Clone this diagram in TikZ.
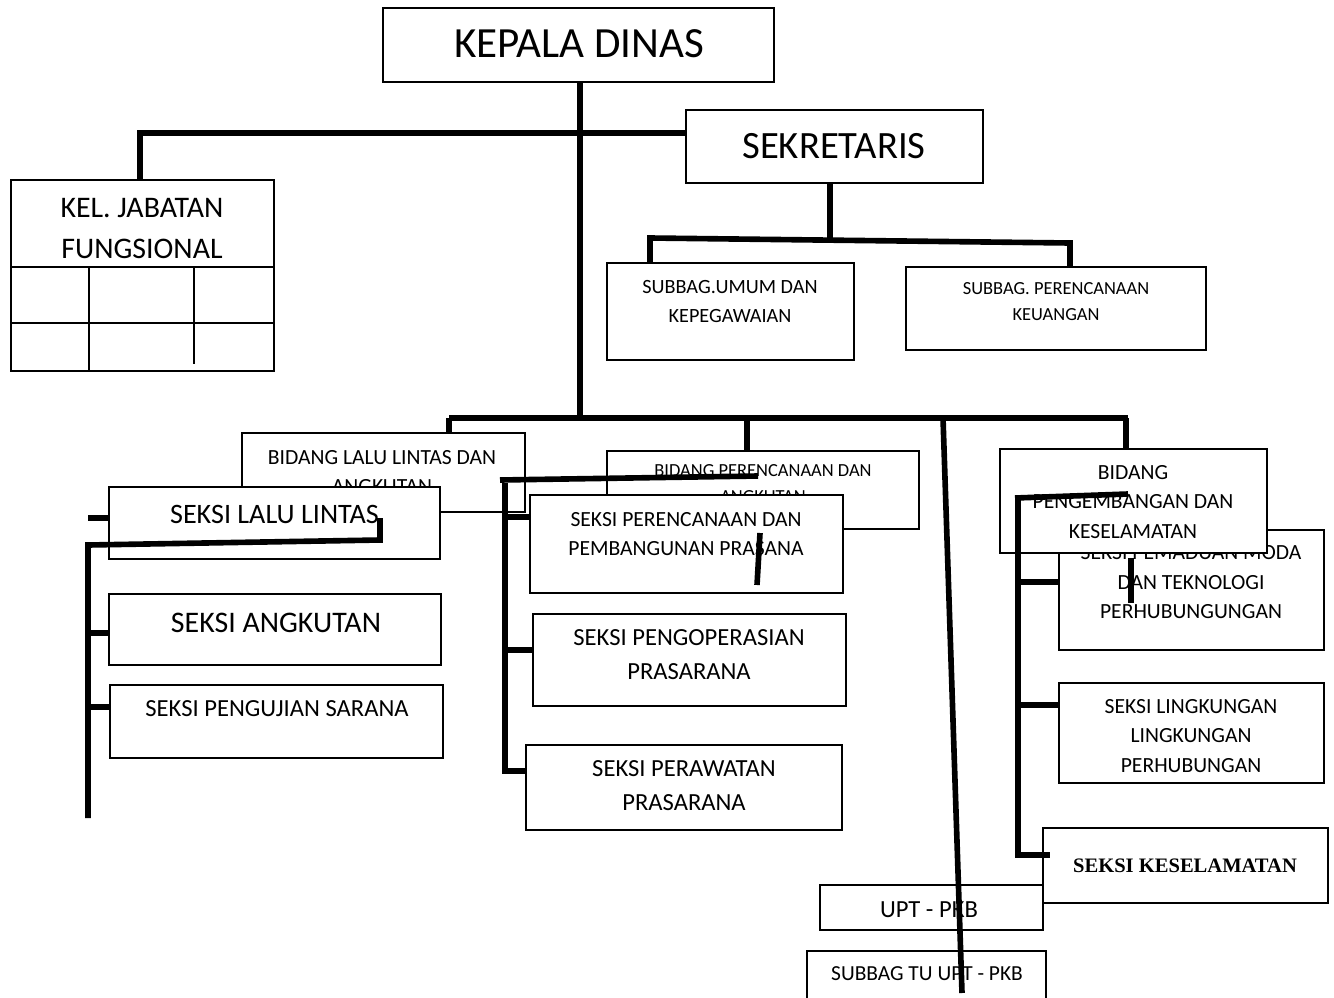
\documentclass[tikz,border=0pt]{standalone}
\usepackage{fontspec}
\setmainfont{Carlito}
\newfontfamily\tnr{Liberation Serif}
\usetikzlibrary{fit}
\def\uk#1#2{\fontsize{#1}{#2}\selectfont}
\tikzset{
  kotak/.style={draw, fill=white, line width=1.1pt, inner sep=0pt},
  teks/.style={align=center, inner sep=0pt},
  garis/.style={line width=3.2pt},
}

\begin{document}
\begin{tikzpicture}[x=0.02cm, y=-0.02cm]
	%%%%% START %%%%%
	\useasboundingbox (0,0) rectangle (1334,997);
	
	% pimpinan
	\node[kotak, fit={(383,8) (774,82)}] (kadis) {};
	\node[teks, font=\uk{24.5}{30}] (kadis-t) at (579,44) {KEPALA DINAS};
	\node[kotak, fit={(686,110) (983,183)}] (sekr) {};
	\node[teks, font=\uk{22}{26}] (sekr-t) at (834,146) {SEKRETARIS};
	
	% kelompok jabatan fungsional
	\node[kotak, fit={(11,180) (274,371)}] (kjf) {};
	\node[teks, font=\uk{17}{23.3}] (kjf-t) at (142,228.5) {KEL. JABATAN\\FUNGSIONAL};
	\draw[line width=1.1pt] (11,267) -- (274,267);
	\draw[line width=1.1pt] (11,323) -- (274,323);
	\draw[line width=1.1pt] (89,267) -- (89,371);
	\draw[line width=1.1pt] (194,267) -- (194,364);
	
	% subbag
	\node[kotak, fit={(607,263) (854,360)}] (umum) {};
	\node[teks, font=\uk{11.5}{16.5}] (umum-t) at (730,302) {SUBBAG.UMUM DAN\\KEPEGAWAIAN};
	\node[kotak, fit={(906,267) (1206,350)}] (keu) {};
	\node[teks, font=\uk{10.5}{14.8}] (keu-t) at (1056,302) {SUBBAG. PERENCANAAN\\KEUANGAN};
	
	% bidang lalu lintas
	\node[kotak, line width=1pt, fit={(242,433) (525,512)}] (bidll) {};
	\node[teks, font=\uk{12.3}{17}] (bidll-t) at (382,472) {BIDANG LALU LINTAS DAN\\ANGKUTAN};
	\node[kotak, fit={(109,487) (440,559)}] (sll) {};
	\node[teks, font=\uk{16}{20}] (sll-t) at (274.5,514) {SEKSI LALU LINTAS};
	\node[kotak, fit={(109,594) (441,665)}] (sang) {};
	\node[teks, font=\uk{17}{20}] (sang-t) at (276,623) {SEKSI ANGKUTAN};
	\node[kotak, fit={(110,685) (443,758)}] (suji) {};
	\node[teks, font=\uk{14}{18}] (suji-t) at (277,709) {SEKSI PENGUJIAN SARANA};
	
	% bidang perencanaan
	\node[kotak, fit={(607,451) (919,529)}] (bidpa) {};
	\node[teks, font=\uk{10.5}{14.8}] (bidpa-t) at (763,484) {BIDANG PERENCANAAN DAN\\ANGKUTAN};
	\node[kotak, fit={(530,495) (843,593)}] (sppp) {};
	\node[teks, font=\uk{12.3}{17}] (sppp-t) at (686,534) {SEKSI PERENCANAAN DAN\\PEMBANGUNAN PRASANA};
	\node[kotak, fit={(533,614) (846,706)}] (sop) {};
	\node[teks, font=\uk{14}{19.3}] (sop-t) at (689,655) {SEKSI PENGOPERASIAN\\PRASARANA};
	\node[kotak, fit={(526,745) (842,830)}] (srw) {};
	\node[teks, font=\uk{14}{19}] (srw-t) at (684,785.5) {SEKSI PERAWATAN\\PRASARANA};
	
	% bidang pengembangan
	\node[kotak, fit={(1059,530) (1324,650)}] (smoda) {};
	\node[teks, font=\uk{12.3}{16.8}] (smoda-t) at (1191,582.5) {SEKSI PEMADUAN MODA\\DAN TEKNOLOGI\\PERHUBUNGUNGAN};
	\node[kotak, fit={(1000,449) (1267,553)}] (bidpk) {};
	\node[teks, font=\uk{12.3}{17}] (bidpk-t) at (1133,502) {BIDANG\\PENGEMBANGAN DAN\\KESELAMATAN};
	\node[kotak, fit={(1059,683) (1324,783)}] (sling) {};
	\node[teks, font=\uk{12.3}{17}] (sling-t) at (1191,736) {SEKSI LINGKUNGAN\\LINGKUNGAN\\PERHUBUNGAN};
	
	% upt
	\node[kotak, fit={(820,885) (1043,930)}] (upt) {};
	\node[teks, font=\uk{14}{18}] (upt-t) at (929,910) {UPT - PKB};
	\node[kotak, fit={(1043,828) (1328,903)}] (skes) {};
	\node[teks, font=\tnr\bfseries\uk{11.7}{14}] (skes-t) at (1185,866) {SEKSI KESELAMATAN};
	\node[kotak, fit={(807,951) (1046,1010)}] (tu) {};
	\node[teks, font=\uk{12.2}{16}] (tu-t) at (927,974) {SUBBAG TU UPT - PKB};
	
	% garis komando atas
	\coordinate (pusat) at (580,418);
	\coordinate (kiri) at (140,133);
	\draw[garis] (kadis.south -| pusat) -- (pusat);
	\draw[garis] (kjf.north -| kiri) -- (kiri) -- (kiri -| sekr.west);
	
	% garis sekretaris
	\coordinate (s1) at (830,240);
	\coordinate (s2) at (650,238);
	\coordinate (s3) at (1070,243);
	\draw[garis] (sekr.south -| s1) -- (s1);
	\draw[garis] (umum.north -| s2) -- (s2) -- (s3) -- (keu.north -| s3);
	
	% garis bidang
	\coordinate (b1) at (449,418);
	\coordinate (b2) at (747,418);
	\coordinate (b3) at (943,418);
	\coordinate (b4) at (1126,418);
	\draw[garis] (b1) -- (1128,418);
	\draw[garis] (b1) -- (b1 |- bidll.north);
	\draw[garis] (b2) -- (b2 |- bidpa.north);
	\draw[garis] (b4) -- (b4 |- bidpk.north);
	\coordinate (upt-ujung) at (962,993);
	\draw[garis] (b3) -- (upt-ujung);
	
	% seksi lalu lintas
	\coordinate (l1) at (380,518);
	\coordinate (l2) at (380,540);
	\coordinate (l3) at (88,545);
	\coordinate (l4) at (88,818);
	\draw[garis] (l1) -- (l2) -- (l3) -- (l4);
	\draw[garis] (88,518) -- (sll.west |- 0,518);
	\draw[garis] (88,633) -- (sang.west |- 0,633);
	\draw[garis] (88,707) -- (suji.west |- 0,707);
	
	% seksi perencanaan
	\coordinate (p1) at (500,480);
	\coordinate (p2) at (758,476);
	\coordinate (p3) at (505,483);
	\coordinate (p4) at (505,771);
	\draw[garis] (p1) -- (p2);
	\draw[garis] (p3) -- (p4) -- (srw.west |- p4);
	\draw[garis] (505,517) -- (sppp.west |- 0,517);
	\draw[garis] (505,650) -- (sop.west |- 0,650);
	\draw[garis] (760,533) -- (757,585);
	
	% seksi pengembangan
	\coordinate (k1) at (1015,498);
	\coordinate (k2) at (1128,494);
	\coordinate (k3) at (1018,498);
	\coordinate (k4) at (1018,855);
	\draw[garis] (k1) -- (k2);
	\draw[garis] (k3) -- (k4) -- (1050,855);
	\draw[garis] (1015,582) -- (smoda.west |- 0,582);
	\draw[garis] (1015,705) -- (sling.west |- 0,705);
	\draw[garis] (1131,558) -- (1131,603);
	
	%%%%% END %%%%%
\end{tikzpicture}
\end{document}
